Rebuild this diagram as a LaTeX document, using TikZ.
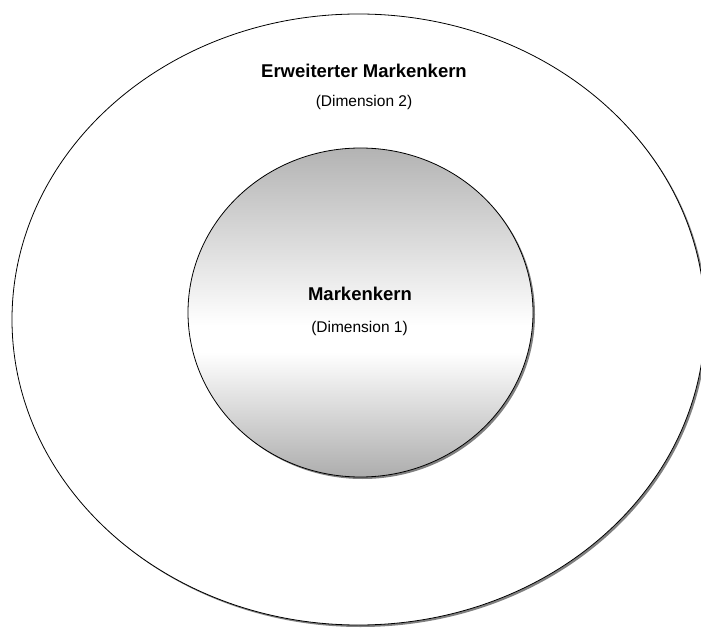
\documentclass[tikz,border=0pt]{standalone}
\usepackage{fontspec}
\setmainfont{Liberation Sans}
\usetikzlibrary{shapes.geometric,shadows}

\definecolor{coretop}{HTML}{B3B3B3}
\definecolor{corebottom}{HTML}{ADADAD}
\definecolor{shadowgray}{HTML}{808080}

% grey at the rim, lightest just below the centre
\pgfdeclareverticalshading{coreshade}{100bp}{%
  color(0bp)=(corebottom); color(25bp)=(corebottom);
  color(44bp)=(white); color(48bp)=(white);
  color(75bp)=(coretop); color(100bp)=(coretop)}

\tikzset{
  ring/.style={ellipse, draw=black, line width=0.8pt, inner sep=0pt,
    drop shadow={shadow xshift=2pt, shadow yshift=-2pt,
                 fill=shadowgray, opacity=1}},
  headline/.style={font=\fontsize{18.5}{22}\selectfont\bfseries,
    anchor=base, inner sep=0pt},
  subline/.style={font=\fontsize{15.5}{18}\selectfont,
    anchor=base, inner sep=0pt}
}

\begin{document}
\begin{tikzpicture}[x=1pt,y=-1pt]
\clip (0,0) rectangle (701,628);
\fill[white] (0,0) rectangle (701,628);

% outer ring: extended brand core
\node[ring, fill=white, minimum width=693pt, minimum height=611pt]
  (outer) at (358.5,319.5) {};

% inner circle: brand core
\node[ring, shading=coreshade, minimum width=345pt, minimum height=329pt]
  (core) at (360.5,312.5) {};

\node[headline] (outertitle) at (364,78) {Erweiterter Markenkern};
\node[subline]  (outersub)   at (364,107) {(Dimension 2)};

\node[headline] (coretitle) at (360,301) {Markenkern};
\node[subline]  (coresub)   at (359.5,332) {(Dimension 1)};
\end{tikzpicture}
\end{document}
